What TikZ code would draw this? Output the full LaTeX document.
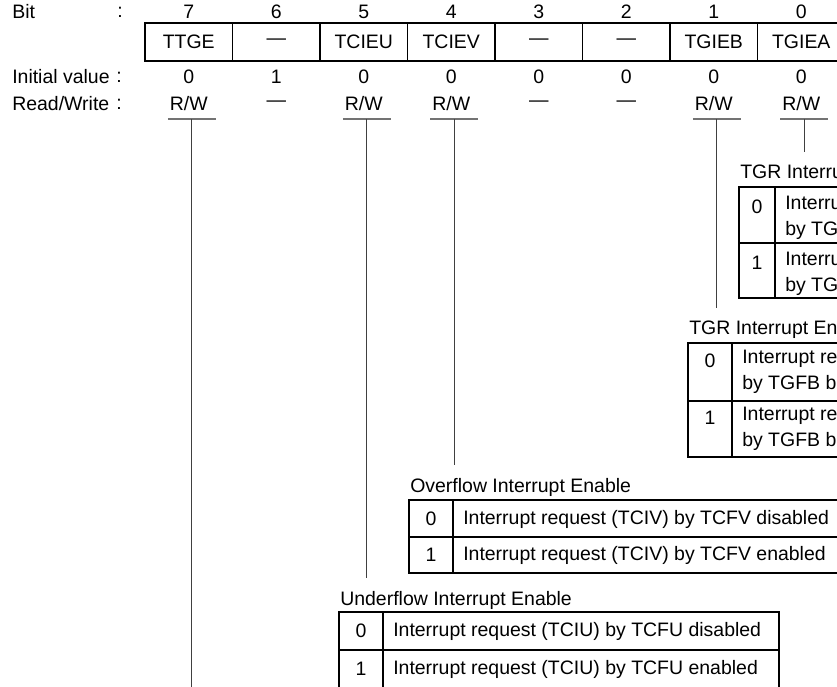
\documentclass[tikz,border=0pt]{standalone}
\usepackage{fontspec}
\setmainfont{Liberation Sans}
\usetikzlibrary{positioning}

\tikzset{
  txt/.style={inner sep=0pt,font=\fontsize{14.6}{15.75}\selectfont},
  ttl/.style={txt,anchor=west,outer ysep=10pt},
  cell/.style={txt,anchor=west,align=left},
  frame/.style={line width=0.8pt},
  stem/.style={line width=0.8pt,black!75},
  uline/.style={line width=0.9pt,black!55}
}

\begin{document}
\begin{tikzpicture}[x=0.75pt,y=-0.75pt]
        \useasboundingbox (0,0) rectangle (837,686);
        \clip (0,0) rectangle (837,686);

        % row labels
        \node[txt,anchor=west] (lbit) at (12,12) {Bit};
        \node[txt] (cbit) at (120,12) {:};
        \node[txt,anchor=west] (linit) at (12,77) {Initial value};
        \node[txt] (cinit) at (119,77) {:};
        \node[txt,anchor=west] (lrw) at (12,104) {Read/Write};
        \node[txt] (crw) at (119,104) {:};

        % register
        \draw[frame] (145,23) rectangle (850,61);
        \foreach \b/\nm/\iv/\rw [count=\k from 0] in
          {7/TTGE/0/{R/W},6/—/1/—,5/TCIEU/0/{R/W},4/TCIEV/0/{R/W},
           3/—/0/—,2/—/0/—,1/TGIEB/0/{R/W},0/TGIEA/0/{R/W}}
        {
          \pgfmathsetmacro\cx{145+87.5*(\k+0.5)}
          \node[txt] (b\b) at (\cx,12) {\b};
          \node[txt] (n\b) at (\cx,42) {\nm};
          \node[txt] (i\b) at (\cx,77) {\iv};
          \node[txt] (rw\b) at (\cx,104) {\rw};
          \coordinate (u\b) at (\cx+3,119);
          \draw[frame] (145+87.5*\k,23) -- (145+87.5*\k,61);
        }
        \foreach \b in {7,5,4,1,0}
          \draw[uline] ([xshift=-18pt]u\b) -- ([xshift=18pt]u\b);

        % TGR interrupt enable A
        \node[ttl] (ttlA) at (740,172) {TGR Interru};
        \draw[frame] (739,187) rectangle (850,298);
        \draw[frame] (739,243) -- (850,243);
        \draw[frame] (775,187) -- (775,298);
        \node[txt] (a0) at (757,207) {0};
        \node[txt] (a1) at (757,263) {1};
        \node[cell] (ta0) at (785,217.5) {Interru\\[3.75pt]by TG};
        \node[cell] (ta1) at (785,273.5) {Interru\\[3.75pt]by TG};

        % TGR interrupt enable B
        \node[ttl] (ttlB) at (689,330) {TGR Interrupt En};
        \draw[frame] (688,343) rectangle (850,457);
        \draw[frame] (688,401) -- (850,401);
        \draw[frame] (732,343) -- (732,457);
        \node[txt] (bb0) at (710,361) {0};
        \node[txt] (bb1) at (710,418) {1};
        \node[cell] (tb0) at (742,371.5) {Interrupt re\\[3.75pt]by TGFB bi};
        \node[cell] (tb1) at (742,428.5) {Interrupt re\\[3.75pt]by TGFB bi};

        % overflow
        \node[ttl] (ttlV) at (410,487) {Overflow Interrupt Enable};
        \draw[frame] (409,500) rectangle (850,573);
        \draw[frame] (409,537) -- (850,537);
        \draw[frame] (453,500) -- (453,573);
        \node[txt] (v0) at (431,519) {0};
        \node[txt] (v1) at (431,555) {1};
        \node[cell] (tv0) at (463,519) {Interrupt request (TCIV) by TCFV disabled};
        \node[cell] (tv1) at (463,555) {Interrupt request (TCIV) by TCFV enabled};

        % underflow
        \node[ttl] (ttlU) at (340,600) {Underflow Interrupt Enable};
        \draw[frame] (339,612) rectangle (779,700);
        \draw[frame] (339,650) -- (779,650);
        \draw[frame] (383,612) -- (383,700);
        \node[txt] (w0) at (361,631) {0};
        \node[txt] (w1) at (361,669) {1};
        \node[cell] (tw0) at (393,631) {Interrupt request (TCIU) by TCFU disabled};
        \node[cell] (tw1) at (393,669) {Interrupt request (TCIU) by TCFU enabled};

        % stems
        \coordinate (bot) at (0,690);
        \draw[stem] (u0) -- (u0 |- ttlA.north);
        \draw[stem] (u1) -- (u1 |- ttlB.north);
        \draw[stem] (u4) -- (u4 |- ttlV.north);
        \draw[stem] (u5) -- (u5 |- ttlU.north);
        \draw[stem] (u7) -- (u7 |- bot);
    \end{tikzpicture}
\end{document}
